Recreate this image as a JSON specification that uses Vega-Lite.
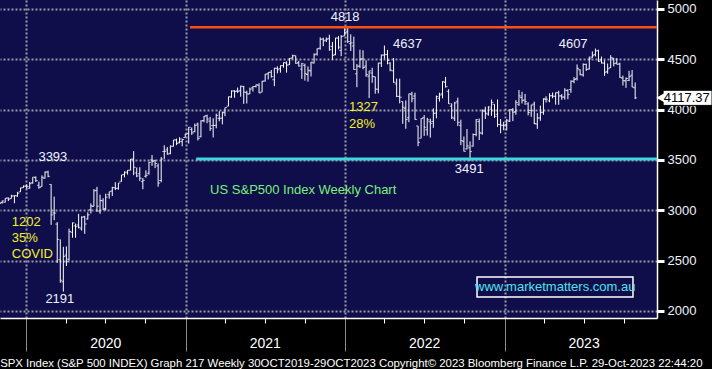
{
"$schema":"https://vega.github.io/schema/vega-lite/v6.json",
"width":657,"height":318,
"autosize":{"type":"none"},
"padding":{"left":0,"top":0,"right":55,"bottom":51},
"background":"#000000",
"config":{"view":{"fill":"#0f0d4a","stroke":null},"font":"Liberation Sans"},
"title":{"text":"SPX Index (S&P 500 INDEX) Graph 217  Weekly 30OCT2019-29OCT2023   Copyright© 2023 Bloomberg Finance L.P.   29-Oct-2023 22:44:20","orient":"bottom","anchor":"start","baseline":"top","color":"#ffffff","fontSize":11.4,"fontWeight":"normal","font":"Liberation Sans","offset":-20,"dx":3},
"datasets":{
"ohlc":[
{"d":"2019-11-01","o":3036,"h":3067,"l":3023,"c":3067},
{"d":"2019-11-08","o":3078,"h":3097,"l":3066,"c":3093},
{"d":"2019-11-15","o":3081,"h":3121,"l":3078,"c":3120},
{"d":"2019-11-22","o":3123,"h":3127,"l":3091,"c":3110},
{"d":"2019-11-29","o":3117,"h":3154,"l":3117,"c":3141},
{"d":"2019-12-06","o":3144,"h":3146,"l":3070,"c":3146},
{"d":"2019-12-13","o":3142,"h":3183,"l":3134,"c":3169},
{"d":"2019-12-20","o":3183,"h":3226,"l":3183,"c":3221},
{"d":"2019-12-27","o":3227,"h":3247,"l":3223,"c":3240},
{"d":"2020-01-03","o":3240,"h":3258,"l":3213,"c":3235},
{"d":"2020-01-10","o":3218,"h":3282,"l":3215,"c":3265},
{"d":"2020-01-17","o":3273,"h":3329,"l":3263,"c":3330},
{"d":"2020-01-24","o":3325,"h":3337,"l":3281,"c":3295},
{"d":"2020-01-31","o":3248,"h":3285,"l":3214,"c":3226},
{"d":"2020-02-07","o":3235,"h":3347,"l":3235,"c":3328},
{"d":"2020-02-14","o":3318,"h":3385,"l":3315,"c":3380},
{"d":"2020-02-21","o":3380,"h":3393,"l":3328,"c":3338},
{"d":"2020-02-28","o":3257,"h":3259,"l":2855,"c":2954},
{"d":"2020-03-06","o":2974,"h":3136,"l":2901,"c":2972},
{"d":"2020-03-13","o":2863,"h":2882,"l":2478,"c":2711},
{"d":"2020-03-20","o":2509,"h":2711,"l":2280,"c":2305},
{"d":"2020-03-27","o":2290,"h":2637,"l":2192,"c":2541},
{"d":"2020-04-03","o":2555,"h":2641,"l":2447,"c":2489},
{"d":"2020-04-09","o":2514,"h":2818,"l":2500,"c":2790},
{"d":"2020-04-17","o":2782,"h":2879,"l":2728,"c":2875},
{"d":"2020-04-24","o":2845,"h":2868,"l":2727,"c":2837},
{"d":"2020-05-01","o":2854,"h":2965,"l":2820,"c":2831},
{"d":"2020-05-08","o":2815,"h":2940,"l":2798,"c":2930},
{"d":"2020-05-15","o":2937,"h":2945,"l":2766,"c":2864},
{"d":"2020-05-22","o":2914,"h":2980,"l":2908,"c":2955},
{"d":"2020-05-29","o":3005,"h":3068,"l":2969,"c":3044},
{"d":"2020-06-05","o":3038,"h":3211,"l":3038,"c":3194},
{"d":"2020-06-12","o":3199,"h":3233,"l":2984,"c":3041},
{"d":"2020-06-19","o":2993,"h":3155,"l":2965,"c":3098},
{"d":"2020-06-26","o":3094,"h":3120,"l":3004,"c":3009},
{"d":"2020-07-02","o":3018,"h":3165,"l":2999,"c":3130},
{"d":"2020-07-10","o":3155,"h":3184,"l":3116,"c":3185},
{"d":"2020-07-17","o":3191,"h":3233,"l":3142,"c":3225},
{"d":"2020-07-24","o":3224,"h":3279,"l":3200,"c":3216},
{"d":"2020-07-31","o":3219,"h":3272,"l":3204,"c":3271},
{"d":"2020-08-07","o":3289,"h":3352,"l":3284,"c":3351},
{"d":"2020-08-14","o":3356,"h":3387,"l":3327,"c":3373},
{"d":"2020-08-21","o":3380,"h":3399,"l":3354,"c":3397},
{"d":"2020-08-28","o":3398,"h":3509,"l":3398,"c":3508},
{"d":"2020-09-04","o":3508,"h":3588,"l":3349,"c":3427},
{"d":"2020-09-11","o":3372,"h":3425,"l":3329,"c":3341},
{"d":"2020-09-18","o":3363,"h":3428,"l":3292,"c":3319},
{"d":"2020-09-25","o":3285,"h":3320,"l":3209,"c":3298},
{"d":"2020-10-02","o":3338,"h":3397,"l":3324,"c":3348},
{"d":"2020-10-09","o":3368,"h":3482,"l":3354,"c":3477},
{"d":"2020-10-16","o":3500,"h":3549,"l":3441,"c":3484},
{"d":"2020-10-23","o":3493,"h":3502,"l":3419,"c":3465},
{"d":"2020-10-30","o":3441,"h":3465,"l":3234,"c":3270},
{"d":"2020-11-06","o":3296,"h":3529,"l":3279,"c":3509},
{"d":"2020-11-13","o":3584,"h":3646,"l":3511,"c":3585},
{"d":"2020-11-20","o":3600,"h":3628,"l":3552,"c":3558},
{"d":"2020-11-27","o":3566,"h":3644,"l":3556,"c":3638},
{"d":"2020-12-04","o":3634,"h":3699,"l":3633,"c":3699},
{"d":"2020-12-11","o":3699,"h":3712,"l":3647,"c":3663},
{"d":"2020-12-18","o":3675,"h":3726,"l":3665,"c":3709},
{"d":"2020-12-24","o":3684,"h":3711,"l":3636,"c":3703},
{"d":"2020-12-31","o":3723,"h":3760,"l":3723,"c":3756},
{"d":"2021-01-08","o":3764,"h":3827,"l":3663,"c":3825},
{"d":"2021-01-15","o":3803,"h":3823,"l":3749,"c":3768},
{"d":"2021-01-22","o":3781,"h":3861,"l":3775,"c":3841},
{"d":"2021-01-29","o":3856,"h":3871,"l":3694,"c":3714},
{"d":"2021-02-05","o":3731,"h":3894,"l":3725,"c":3887},
{"d":"2021-02-12","o":3892,"h":3937,"l":3874,"c":3935},
{"d":"2021-02-19","o":3939,"h":3950,"l":3865,"c":3907},
{"d":"2021-02-26","o":3886,"h":3928,"l":3789,"c":3811},
{"d":"2021-03-05","o":3842,"h":3914,"l":3723,"c":3842},
{"d":"2021-03-12","o":3844,"h":3960,"l":3814,"c":3943},
{"d":"2021-03-19","o":3914,"h":3984,"l":3884,"c":3913},
{"d":"2021-03-26","o":3916,"h":3978,"l":3853,"c":3975},
{"d":"2021-04-01","o":3969,"h":4020,"l":3935,"c":4020},
{"d":"2021-04-09","o":4034,"h":4129,"l":4034,"c":4129},
{"d":"2021-04-16","o":4124,"h":4191,"l":4118,"c":4185},
{"d":"2021-04-23","o":4185,"h":4194,"l":4118,"c":4180},
{"d":"2021-04-30","o":4186,"h":4219,"l":4165,"c":4181},
{"d":"2021-05-07","o":4191,"h":4238,"l":4128,"c":4233},
{"d":"2021-05-14","o":4228,"h":4236,"l":4057,"c":4174},
{"d":"2021-05-21","o":4169,"h":4188,"l":4061,"c":4156},
{"d":"2021-05-28","o":4155,"h":4219,"l":4155,"c":4204},
{"d":"2021-06-04","o":4216,"h":4233,"l":4179,"c":4230},
{"d":"2021-06-11","o":4230,"h":4249,"l":4220,"c":4247},
{"d":"2021-06-18","o":4243,"h":4262,"l":4164,"c":4166},
{"d":"2021-06-25","o":4174,"h":4286,"l":4173,"c":4281},
{"d":"2021-07-02","o":4285,"h":4355,"l":4279,"c":4352},
{"d":"2021-07-09","o":4356,"h":4372,"l":4300,"c":4370},
{"d":"2021-07-16","o":4372,"h":4393,"l":4318,"c":4327},
{"d":"2021-07-23","o":4297,"h":4415,"l":4233,"c":4412},
{"d":"2021-07-30","o":4409,"h":4430,"l":4360,"c":4395},
{"d":"2021-08-06","o":4407,"h":4440,"l":4367,"c":4437},
{"d":"2021-08-13","o":4437,"h":4468,"l":4416,"c":4468},
{"d":"2021-08-20","o":4462,"h":4480,"l":4367,"c":4442},
{"d":"2021-08-27","o":4450,"h":4513,"l":4444,"c":4509},
{"d":"2021-09-03","o":4513,"h":4546,"l":4507,"c":4535},
{"d":"2021-09-10","o":4536,"h":4536,"l":4456,"c":4459},
{"d":"2021-09-17","o":4469,"h":4485,"l":4428,"c":4433},
{"d":"2021-09-24","o":4402,"h":4465,"l":4305,"c":4455},
{"d":"2021-10-01","o":4438,"h":4457,"l":4288,"c":4357},
{"d":"2021-10-08","o":4349,"h":4429,"l":4278,"c":4391},
{"d":"2021-10-15","o":4385,"h":4475,"l":4329,"c":4471},
{"d":"2021-10-22","o":4463,"h":4559,"l":4459,"c":4545},
{"d":"2021-10-29","o":4553,"h":4608,"l":4537,"c":4605},
{"d":"2021-11-05","o":4610,"h":4718,"l":4595,"c":4698},
{"d":"2021-11-12","o":4702,"h":4714,"l":4630,"c":4683},
{"d":"2021-11-19","o":4690,"h":4717,"l":4672,"c":4698},
{"d":"2021-11-26","o":4708,"h":4744,"l":4585,"c":4595},
{"d":"2021-12-03","o":4628,"h":4672,"l":4495,"c":4538},
{"d":"2021-12-10","o":4549,"h":4713,"l":4540,"c":4712},
{"d":"2021-12-17","o":4710,"h":4732,"l":4600,"c":4621},
{"d":"2021-12-23","o":4588,"h":4740,"l":4531,"c":4726},
{"d":"2021-12-31","o":4733,"h":4809,"l":4733,"c":4766},
{"d":"2022-01-07","o":4778,"h":4819,"l":4663,"c":4677},
{"d":"2022-01-14","o":4655,"h":4748,"l":4582,"c":4663},
{"d":"2022-01-21","o":4632,"h":4725,"l":4395,"c":4398},
{"d":"2022-01-28","o":4356,"h":4453,"l":4223,"c":4432},
{"d":"2022-02-04","o":4432,"h":4595,"l":4414,"c":4501},
{"d":"2022-02-11","o":4505,"h":4590,"l":4401,"c":4419},
{"d":"2022-02-18","o":4432,"h":4490,"l":4327,"c":4349},
{"d":"2022-02-25","o":4332,"h":4385,"l":4115,"c":4385},
{"d":"2022-03-04","o":4364,"h":4416,"l":4267,"c":4329},
{"d":"2022-03-11","o":4327,"h":4327,"l":4158,"c":4204},
{"d":"2022-03-18","o":4202,"h":4465,"l":4162,"c":4463},
{"d":"2022-03-25","o":4462,"h":4546,"l":4424,"c":4543},
{"d":"2022-04-01","o":4541,"h":4637,"l":4506,"c":4546},
{"d":"2022-04-08","o":4548,"h":4593,"l":4450,"c":4488},
{"d":"2022-04-14","o":4462,"h":4471,"l":4381,"c":4393},
{"d":"2022-04-22","o":4385,"h":4513,"l":4267,"c":4272},
{"d":"2022-04-29","o":4255,"h":4308,"l":4124,"c":4132},
{"d":"2022-05-06","o":4131,"h":4308,"l":4062,"c":4123},
{"d":"2022-05-13","o":4081,"h":4081,"l":3859,"c":4024},
{"d":"2022-05-20","o":4013,"h":4091,"l":3810,"c":3901},
{"d":"2022-05-27","o":3920,"h":4158,"l":3875,"c":4158},
{"d":"2022-06-03","o":4152,"h":4178,"l":4073,"c":4109},
{"d":"2022-06-10","o":4135,"h":4168,"l":3900,"c":3901},
{"d":"2022-06-17","o":3838,"h":3838,"l":3637,"c":3675},
{"d":"2022-06-24","o":3716,"h":3913,"l":3715,"c":3912},
{"d":"2022-07-01","o":3920,"h":3946,"l":3739,"c":3825},
{"d":"2022-07-08","o":3800,"h":3919,"l":3742,"c":3899},
{"d":"2022-07-15","o":3880,"h":3910,"l":3722,"c":3863},
{"d":"2022-07-22","o":3883,"h":4012,"l":3819,"c":3962},
{"d":"2022-07-29","o":3966,"h":4140,"l":3913,"c":4130},
{"d":"2022-08-05","o":4113,"h":4168,"l":4080,"c":4145},
{"d":"2022-08-12","o":4156,"h":4281,"l":4112,"c":4280},
{"d":"2022-08-19","o":4270,"h":4325,"l":4219,"c":4228},
{"d":"2022-08-26","o":4182,"h":4203,"l":4057,"c":4058},
{"d":"2022-09-02","o":4034,"h":4062,"l":3906,"c":3924},
{"d":"2022-09-09","o":3910,"h":4077,"l":3887,"c":4067},
{"d":"2022-09-16","o":4083,"h":4119,"l":3837,"c":3873},
{"d":"2022-09-23","o":3844,"h":3900,"l":3647,"c":3693},
{"d":"2022-09-30","o":3682,"h":3733,"l":3584,"c":3586},
{"d":"2022-10-07","o":3610,"h":3807,"l":3604,"c":3640},
{"d":"2022-10-14","o":3620,"h":3685,"l":3492,"c":3583},
{"d":"2022-10-21","o":3638,"h":3763,"l":3632,"c":3753},
{"d":"2022-10-28","o":3753,"h":3905,"l":3735,"c":3901},
{"d":"2022-11-04","o":3881,"h":3911,"l":3698,"c":3771},
{"d":"2022-11-11","o":3765,"h":4002,"l":3751,"c":3993},
{"d":"2022-11-18","o":3982,"h":4029,"l":3907,"c":3965},
{"d":"2022-11-25","o":3956,"h":4034,"l":3940,"c":4026},
{"d":"2022-12-02","o":4005,"h":4101,"l":3938,"c":4072},
{"d":"2022-12-09","o":4053,"h":4053,"l":3918,"c":3934},
{"d":"2022-12-16","o":3954,"h":4101,"l":3827,"c":3852},
{"d":"2022-12-23","o":3853,"h":3906,"l":3765,"c":3845},
{"d":"2022-12-30","o":3843,"h":3878,"l":3795,"c":3840},
{"d":"2023-01-06","o":3853,"h":3906,"l":3794,"c":3895},
{"d":"2023-01-13","o":3884,"h":4004,"l":3877,"c":3999},
{"d":"2023-01-20","o":3999,"h":4015,"l":3886,"c":3973},
{"d":"2023-01-27","o":3979,"h":4094,"l":3949,"c":4071},
{"d":"2023-02-03","o":4053,"h":4195,"l":4037,"c":4136},
{"d":"2023-02-10","o":4120,"h":4177,"l":4061,"c":4090},
{"d":"2023-02-17","o":4096,"h":4156,"l":4047,"c":4079},
{"d":"2023-02-24","o":4057,"h":4073,"l":3943,"c":3970},
{"d":"2023-03-03","o":3992,"h":4048,"l":3928,"c":4046},
{"d":"2023-03-10","o":4055,"h":4079,"l":3855,"c":3862},
{"d":"2023-03-17","o":3856,"h":3965,"l":3809,"c":3917},
{"d":"2023-03-24","o":3917,"h":4040,"l":3889,"c":3971},
{"d":"2023-03-31","o":3975,"h":4111,"l":3949,"c":4109},
{"d":"2023-04-06","o":4102,"h":4133,"l":4070,"c":4105},
{"d":"2023-04-14","o":4087,"h":4163,"l":4073,"c":4138},
{"d":"2023-04-21","o":4138,"h":4170,"l":4113,"c":4134},
{"d":"2023-04-28","o":4132,"h":4170,"l":4049,"c":4169},
{"d":"2023-05-05","o":4167,"h":4187,"l":4048,"c":4136},
{"d":"2023-05-12","o":4136,"h":4154,"l":4098,"c":4124},
{"d":"2023-05-19","o":4126,"h":4213,"l":4099,"c":4192},
{"d":"2023-05-26","o":4190,"h":4203,"l":4103,"c":4151},
{"d":"2023-06-02","o":4200,"h":4291,"l":4166,"c":4282},
{"d":"2023-06-09","o":4282,"h":4323,"l":4262,"c":4299},
{"d":"2023-06-16","o":4308,"h":4449,"l":4289,"c":4410},
{"d":"2023-06-23","o":4396,"h":4400,"l":4341,"c":4348},
{"d":"2023-06-30","o":4344,"h":4459,"l":4328,"c":4450},
{"d":"2023-07-07","o":4450,"h":4456,"l":4385,"c":4399},
{"d":"2023-07-14","o":4404,"h":4528,"l":4398,"c":4505},
{"d":"2023-07-21","o":4522,"h":4578,"l":4514,"c":4536},
{"d":"2023-07-28","o":4548,"h":4607,"l":4528,"c":4582},
{"d":"2023-08-04","o":4588,"h":4595,"l":4474,"c":4478},
{"d":"2023-08-11","o":4492,"h":4527,"l":4458,"c":4464},
{"d":"2023-08-18","o":4461,"h":4490,"l":4335,"c":4370},
{"d":"2023-08-25","o":4380,"h":4458,"l":4356,"c":4406},
{"d":"2023-09-01","o":4416,"h":4541,"l":4414,"c":4516},
{"d":"2023-09-08","o":4510,"h":4514,"l":4430,"c":4457},
{"d":"2023-09-15","o":4463,"h":4511,"l":4449,"c":4450},
{"d":"2023-09-22","o":4454,"h":4466,"l":4316,"c":4320},
{"d":"2023-09-29","o":4314,"h":4338,"l":4239,"c":4288},
{"d":"2023-10-06","o":4285,"h":4320,"l":4216,"c":4309},
{"d":"2023-10-13","o":4290,"h":4386,"l":4283,"c":4328},
{"d":"2023-10-20","o":4342,"h":4394,"l":4223,"c":4224},
{"d":"2023-10-27","o":4217,"h":4269,"l":4104,"c":4117}
],
"levels":[
{"d":"2021-01-11","e":"2023-12-16","v":4818,"k":"top"},
{"d":"2021-01-25","e":"2023-12-16","v":3510,"k":"sup"}
],
"whiteNotes":[
{"d":"2022-01-01","v":4920,"t":"4818"},
{"d":"2022-05-24","v":4653,"t":"4637"},
{"d":"2023-06-07","v":4653,"t":"4607"},
{"d":"2020-03-03","v":3529,"t":"3393"},
{"d":"2020-03-19","v":2118,"t":"2191"},
{"d":"2022-10-12","v":3410,"t":"3491"}
],
"yellowNotes":[
{"d":"2019-11-30","v":2883,"t":"1202"},
{"d":"2019-11-30","v":2724,"t":"35%"},
{"d":"2019-11-30","v":2565,"t":"COVID"},
{"d":"2022-01-10","v":4026,"t":"1327"},
{"d":"2022-01-10","v":3857,"t":"28%"}
],
"greenNotes":[{"d":"2021-02-26","v":3201,"t":"US S&P500 Index Weekly Chart"}],
"site":[{"d":"2022-10-30","e":"2023-10-22","m":"2023-04-27","lo":2138,"hi":2337,"v":2237,"t":"www.marketmatters.com.au"}],
"last":[{"d":"2023-12-30","e":"2024-04-20","m":"2024-02-22","a":"2023-12-24","lo":4042,"hi":4192,"v":4117.37,"t":"4117.37"}]
},
"layer":[
{"data":{"name":"ohlc"},"mark":{"type":"rule","color":"#ffffff","strokeWidth":1},
 "encoding":{
  "x":{"field":"d","type":"temporal","title":null,
   "scale":{"domain":[{"year":2019,"month":11,"date":3,"utc":true},{"year":2023,"month":12,"date":16,"utc":true}],"nice":false},
   "axis":{"orient":"bottom","title":null,
    "values":[{"year":2020,"month":1,"date":1,"utc":true},{"year":2020,"month":4,"date":1,"utc":true},{"year":2020,"month":7,"date":1,"utc":true},{"year":2020,"month":10,"date":1,"utc":true},
              {"year":2021,"month":1,"date":1,"utc":true},{"year":2021,"month":4,"date":1,"utc":true},{"year":2021,"month":7,"date":1,"utc":true},{"year":2021,"month":10,"date":1,"utc":true},
              {"year":2022,"month":1,"date":1,"utc":true},{"year":2022,"month":4,"date":1,"utc":true},{"year":2022,"month":7,"date":1,"utc":true},{"year":2022,"month":10,"date":1,"utc":true},
              {"year":2023,"month":1,"date":1,"utc":true},{"year":2023,"month":4,"date":1,"utc":true},{"year":2023,"month":7,"date":1,"utc":true},{"year":2023,"month":10,"date":1,"utc":true}],
    "labelExpr":"utcmonth(datum.value)===6 ? utcFormat(datum.value,'%Y') : ''",
    "labelColor":"#ffffff","labelFontSize":14,"labelFontWeight":"normal","labelFont":"Liberation Sans","labelPadding":13,"labelFlush":false,"labelOverlap":false,
    "domainColor":"#ffffff","domainWidth":1.5,
    "tickSize":{"condition":{"test":"utcmonth(datum.value)===0","value":33},"value":5},
    "tickColor":{"condition":{"test":"utcmonth(datum.value)===0","value":"#8a8a8a"},"value":"#ffffff"},
    "tickWidth":1,
    "grid":true,"gridColor":"#9a9aa8","gridDash":[2,2],"gridWidth":2,
    "gridOpacity":{"condition":{"test":"utcmonth(datum.value)===0","value":1},"value":0}}},
  "y":{"field":"l","type":"quantitative","title":null,
   "scale":{"domain":[1930,5089],"nice":false,"zero":false},
   "axis":{"orient":"right","title":null,
    "values":[2000,2250,2500,2750,3000,3250,3500,3750,4000,4250,4500,4750,5000],
    "labelExpr":"datum.value % 500 === 0 ? datum.value : ''",
    "labelColor":"#eef2ff","labelFontSize":13,"labelPadding":3,"labelOverlap":false,"labelFlush":false,
    "domainColor":"#ffffff","domainWidth":1.5,
    "tickColor":"#ffffff",
    "tickSize":{"condition":{"test":"datum.value % 500 === 0","value":7},"value":4},
    "tickWidth":{"condition":{"test":"datum.value % 500 === 0","value":3},"value":1},
    "grid":true,"gridColor":"#9a9aa8","gridDash":[2,2],"gridWidth":2,
    "gridOpacity":{"condition":{"test":"datum.value % 500 === 0","value":1},"value":0}}},
  "y2":{"field":"h"}}},
{"data":{"name":"ohlc"},"mark":{"type":"tick","orient":"horizontal","size":2,"thickness":1,"xOffset":-1,"color":"#ffffff"},
 "encoding":{"x":{"field":"d","type":"temporal","title":null,"scale":{"domain":[{"year":2019,"month":11,"date":3,"utc":true},{"year":2023,"month":12,"date":16,"utc":true}],"nice":false}},
  "y":{"field":"o","type":"quantitative","title":null,"scale":{"domain":[1930,5089],"nice":false,"zero":false}}}},
{"data":{"name":"ohlc"},"mark":{"type":"tick","orient":"horizontal","size":2,"thickness":1,"xOffset":1,"color":"#ffffff"},
 "encoding":{"x":{"field":"d","type":"temporal","title":null,"scale":{"domain":[{"year":2019,"month":11,"date":3,"utc":true},{"year":2023,"month":12,"date":16,"utc":true}],"nice":false}},
  "y":{"field":"c","type":"quantitative","title":null,"scale":{"domain":[1930,5089],"nice":false,"zero":false}}}},
{"data":{"name":"levels"},"mark":{"type":"rule"},
 "encoding":{"x":{"field":"d","type":"temporal","title":null,"scale":{"domain":[{"year":2019,"month":11,"date":3,"utc":true},{"year":2023,"month":12,"date":16,"utc":true}],"nice":false}},
  "x2":{"field":"e"},
  "y":{"field":"v","type":"quantitative","title":null,"scale":{"domain":[1930,5089],"nice":false,"zero":false}},
  "color":{"field":"k","type":"nominal","scale":{"domain":["top","sup"],"range":["#ff5014","#3fd6dc"]},"legend":null},
  "strokeWidth":{"field":"k","type":"nominal","scale":{"domain":["top","sup"],"range":[2.5,3]},"legend":null}}},
{"data":{"name":"whiteNotes"},"mark":{"type":"text","color":"#eef2ff","fontSize":13,"align":"center","baseline":"middle"},
 "encoding":{"x":{"field":"d","type":"temporal","title":null,"scale":{"domain":[{"year":2019,"month":11,"date":3,"utc":true},{"year":2023,"month":12,"date":16,"utc":true}],"nice":false}},
  "y":{"field":"v","type":"quantitative","title":null,"scale":{"domain":[1930,5089],"nice":false,"zero":false}},
  "text":{"field":"t"}}},
{"data":{"name":"yellowNotes"},"mark":{"type":"text","color":"#f2f222","fontSize":13,"align":"left","baseline":"middle"},
 "encoding":{"x":{"field":"d","type":"temporal","title":null,"scale":{"domain":[{"year":2019,"month":11,"date":3,"utc":true},{"year":2023,"month":12,"date":16,"utc":true}],"nice":false}},
  "y":{"field":"v","type":"quantitative","title":null,"scale":{"domain":[1930,5089],"nice":false,"zero":false}},
  "text":{"field":"t"}}},
{"data":{"name":"greenNotes"},"mark":{"type":"text","color":"#7af07a","fontSize":13,"align":"left","baseline":"middle"},
 "encoding":{"x":{"field":"d","type":"temporal","title":null,"scale":{"domain":[{"year":2019,"month":11,"date":3,"utc":true},{"year":2023,"month":12,"date":16,"utc":true}],"nice":false}},
  "y":{"field":"v","type":"quantitative","title":null,"scale":{"domain":[1930,5089],"nice":false,"zero":false}},
  "text":{"field":"t"}}},
{"data":{"name":"site"},"mark":{"type":"rect","filled":false,"stroke":"#ffffff","strokeWidth":1.5},
 "encoding":{"x":{"field":"d","type":"temporal","title":null,"scale":{"domain":[{"year":2019,"month":11,"date":3,"utc":true},{"year":2023,"month":12,"date":16,"utc":true}],"nice":false}},
  "x2":{"field":"e"},
  "y":{"field":"lo","type":"quantitative","title":null,"scale":{"domain":[1930,5089],"nice":false,"zero":false}},
  "y2":{"field":"hi"}}},
{"data":{"name":"site"},"mark":{"type":"text","color":"#4fe3f0","fontSize":13,"align":"center","baseline":"middle"},
 "encoding":{"x":{"field":"m","type":"temporal","title":null,"scale":{"domain":[{"year":2019,"month":11,"date":3,"utc":true},{"year":2023,"month":12,"date":16,"utc":true}],"nice":false}},
  "y":{"field":"v","type":"quantitative","title":null,"scale":{"domain":[1930,5089],"nice":false,"zero":false}},
  "text":{"field":"t"}}},
{"data":{"name":"last"},"mark":{"type":"rect","color":"#ffffff","stroke":"#000000","strokeWidth":1},
 "encoding":{"x":{"field":"d","type":"temporal","title":null,"scale":{"domain":[{"year":2019,"month":11,"date":3,"utc":true},{"year":2023,"month":12,"date":16,"utc":true}],"nice":false}},
  "x2":{"field":"e"},
  "y":{"field":"lo","type":"quantitative","title":null,"scale":{"domain":[1930,5089],"nice":false,"zero":false}},
  "y2":{"field":"hi"}}},
{"data":{"name":"last"},"mark":{"type":"point","shape":"triangle-left","filled":true,"color":"#ffffff","size":90,"opacity":1},
 "encoding":{"x":{"field":"a","type":"temporal","title":null,"scale":{"domain":[{"year":2019,"month":11,"date":3,"utc":true},{"year":2023,"month":12,"date":16,"utc":true}],"nice":false}},
  "y":{"field":"v","type":"quantitative","title":null,"scale":{"domain":[1930,5089],"nice":false,"zero":false}}}},
{"data":{"name":"last"},"mark":{"type":"text","color":"#000000","fontSize":13,"align":"center","baseline":"middle"},
 "encoding":{"x":{"field":"m","type":"temporal","title":null,"scale":{"domain":[{"year":2019,"month":11,"date":3,"utc":true},{"year":2023,"month":12,"date":16,"utc":true}],"nice":false}},
  "y":{"field":"v","type":"quantitative","title":null,"scale":{"domain":[1930,5089],"nice":false,"zero":false}},
  "text":{"field":"t"}}}
]
}
